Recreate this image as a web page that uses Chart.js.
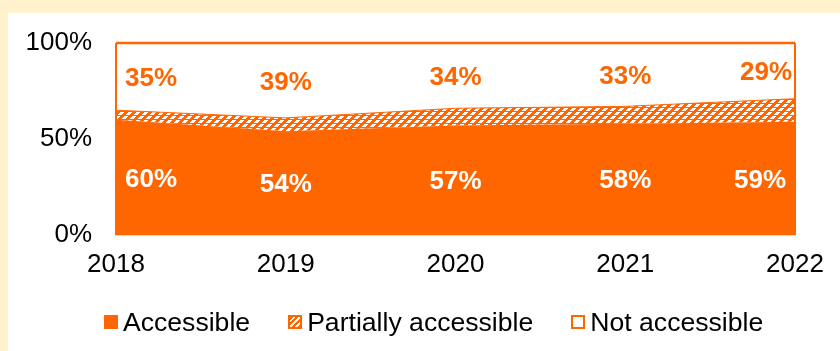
<!DOCTYPE html>
<html>
<head>
<meta charset="utf-8">
<style>
  html, body { margin: 0; padding: 0; }
  body { width: 840px; height: 351px; background: #FFF2CC; position: relative; overflow: hidden;
         font-family: "Liberation Sans", Arial, sans-serif; }
  #panel { position: absolute; left: 8px; top: 13px; right: 0; bottom: 0; background: #fff; }
  #Grafica { position: absolute; left: 0; top: 0; }
  #leyenda { position: absolute; left: 104px; top: 307px; display: flex; align-items: center;
             font-size: 26.6px; color: #000; line-height: 30px; }
  .item { display: flex; align-items: center; margin-right: 38px; }
  .item:last-child { margin-right: 0; }
  .caja { width: 14px; height: 14px; box-sizing: border-box; margin-right: 5px; }
  .acc { background: #FF6600; }
  .par { border: 2px solid #FF6600;
         background: repeating-linear-gradient(-45deg, #FF6600 0 2px, #fff 2px 4px); }
  .no { border: 2px solid #FF6600; background: #fff; }
</style>
</head>
<body>
<div id="panel"></div>
<canvas id="Grafica" width="840" height="351"></canvas>
<div id="leyenda">
  <div class="item"><span class="caja acc"></span>Accessible</div>
  <div class="item"><span class="caja par"></span>Partially accessible</div>
  <div class="item"><span class="caja no"></span>Not accessible</div>
</div>
<script src="https://cdn.jsdelivr.net/npm/chart.js"></script>
<script>
const anios = ["2018", "2019", "2020", "2021", "2022"];
const accesible = [60, 54, 57, 58, 59];
const parcial = [5, 7, 9, 9, 12];
const noAccesible = [35, 39, 34, 33, 29];
const ticksY = ["0%", "50%", "100%"];

const naranja = "#FF6600";

// trama diagonal blanca para "Partially accessible"
function crearTrama() {
  const c = document.createElement("canvas");
  c.width = 8; c.height = 8;
  const ctx = c.getContext("2d");
  ctx.fillStyle = naranja;
  ctx.fillRect(0, 0, 8, 8);
  ctx.fillStyle = "#fff";
  for (let y = 0; y < 8; y++) {
    if (y % 4 === 3) continue;
    for (let x = 0; x < 8; x++) {
      if ((x + y) % 8 < 4) ctx.fillRect(x, y, 1, 1);
    }
  }
  return ctx.createPattern(c, "repeat");
}

// etiquetas de porcentaje centradas en cada franja
const etiquetas = {
  id: "etiquetas",
  afterDatasetsDraw(chart) {
    const ctx = chart.ctx;
    const y = chart.scales.y;
    const area = chart.chartArea;
    ctx.save();
    ctx.font = "bold 26px 'Liberation Sans', Arial, sans-serif";
    ctx.textBaseline = "middle";
    const series = [
      { idx: 0, valores: accesible, base: () => 0, color: "#fff" },
      { idx: 2, valores: noAccesible, base: i => accesible[i] + parcial[i], color: naranja }
    ];
    series.forEach(s => {
      const meta = chart.getDatasetMeta(s.idx);
      s.valores.forEach((v, i) => {
        let x = meta.data[i].x;
        ctx.textAlign = "center";
        if (i === 0) { ctx.textAlign = "left"; x = area.left + 9; }
        if (i === s.valores.length - 1) { ctx.textAlign = "right"; x = area.right - (s.idx === 0 ? 9 : 3); }
        ctx.fillStyle = s.color;
        ctx.fillText(v + "%", x, y.getPixelForValue(s.base(i) + v / 2) + 2);
      });
    });
    // bordes laterales del area
    ctx.strokeStyle = naranja;
    ctx.lineWidth = 2;
    ctx.beginPath();
    ctx.moveTo(area.left, area.top);
    ctx.lineTo(area.left, area.bottom);
    ctx.moveTo(area.right, area.top);
    ctx.lineTo(area.right, area.bottom);
    ctx.stroke();
    ctx.restore();
  }
};

new Chart(document.getElementById("Grafica"), {
  type: "line",
  data: {
    labels: anios,
    datasets: [
      {
        label: "Accessible",
        data: accesible,
        backgroundColor: naranja,
        borderColor: naranja,
        borderWidth: 0,
        fill: "origin",
        pointRadius: 0
      },
      {
        label: "Partially accessible",
        data: parcial,
        backgroundColor: crearTrama(),
        borderColor: naranja,
        borderWidth: 1,
        fill: "-1",
        pointRadius: 0
      },
      {
        label: "Not accessible",
        data: noAccesible,
        backgroundColor: "#fff",
        borderColor: naranja,
        borderWidth: 2.5,
        fill: "-1",
        pointRadius: 0,
        clip: 4
      }
    ]
  },
  options: {
    responsive: false,
    animation: false,
    devicePixelRatio: 1,
    layout: { padding: { left: 0, top: 43, right: 45, bottom: 0 } },
    plugins: {
      legend: { display: false },
      tooltip: { enabled: false }
    },
    elements: { line: { tension: 0 } },
    scales: {
      x: {
        offset: false,
        grid: { display: false, drawTicks: false },
        border: { display: true, color: "#d9d9d9", width: 2 },
        ticks: {
          color: "#000",
          padding: 14,
          maxRotation: 0,
          autoSkip: false,
          font: { family: "'Liberation Sans', Arial, sans-serif", size: 26 }
        },
        afterFit: s => { s.height = 116; }
      },
      y: {
        stacked: true,
        min: 0,
        max: 100,
        grid: { display: false, drawTicks: false },
        border: { display: false },
        ticks: {
          stepSize: 50,
          color: "#000",
          padding: 24,
          font: { family: "'Liberation Sans', Arial, sans-serif", size: 26 },
          callback: (v) => ticksY[v / 50]
        },
        afterFit: s => { s.width = 116; }
      }
    }
  },
  plugins: [etiquetas]
});
</script>
</body>
</html>
